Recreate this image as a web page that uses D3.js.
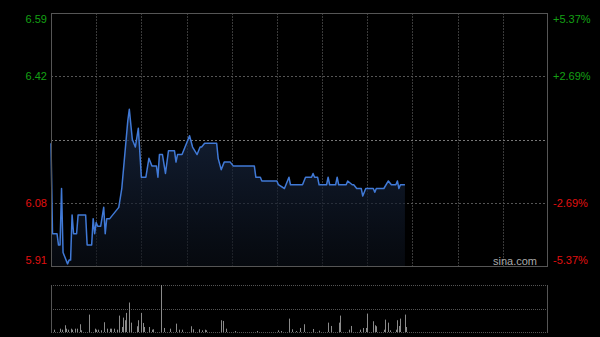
<!DOCTYPE html>
<html>
<head>
<meta charset="utf-8">
<script src="https://cdn.jsdelivr.net/npm/d3@7"></script>
<style>
  html, body { margin: 0; padding: 0; background: #000; }
  svg { display: block; }
  text { font-family: "Liberation Sans", Arial, sans-serif; font-size: 11px; }
</style>
</head>
<body>
<div id="chart"></div>
<script>
// previous close and axis ticks (percent from previous close)
var prevClose = 6.25;
var pctTicks = [5.37, 2.69, -2.69, -5.37];

// intraday price: minute offset from 09:30 (HK session, 330 min) and price
var priceMin = [0, 1, 4, 5, 6, 7, 8, 9, 11, 12, 13, 14, 15, 17, 18, 23, 24, 27, 28, 29,
  30, 31, 33, 35, 36, 37, 39, 41, 43, 45, 47, 51, 52, 54, 56, 58, 60, 63, 65, 67,
  70, 71, 72, 74, 76, 78, 82, 83, 84, 87, 89, 92, 94, 97, 99, 100, 102, 110, 111, 113,
  115, 119, 121, 135, 136, 139, 140, 150, 151, 155, 158, 159, 167, 169, 173, 174, 175, 177, 178, 183,
  184, 185, 189, 190, 191, 196, 197, 200, 201, 203, 206, 207, 209, 214, 215, 216, 221, 224, 226, 229,
  230, 231, 232, 235];
var priceVal = [6.24, 6.00, 6.00, 5.97, 5.97, 6.12, 5.95, 5.94, 5.92, 5.93, 5.93, 6.05, 6.00, 6.00, 6.05, 6.05, 5.97, 5.97, 6.04, 6.00,
  6.03, 6.02, 6.02, 6.07, 6.00, 6.04, 6.04, 6.05, 6.06, 6.07, 6.12, 6.30, 6.33, 6.25, 6.23, 6.28, 6.15, 6.15, 6.20, 6.18,
  6.18, 6.15, 6.21, 6.21, 6.16, 6.22, 6.22, 6.19, 6.21, 6.21, 6.23, 6.26, 6.23, 6.21, 6.23, 6.23, 6.24, 6.24, 6.20, 6.17,
  6.19, 6.19, 6.18, 6.18, 6.15, 6.15, 6.14, 6.14, 6.13, 6.12, 6.15, 6.13, 6.13, 6.15, 6.15, 6.16, 6.15, 6.15, 6.13, 6.13,
  6.15, 6.13, 6.13, 6.15, 6.13, 6.13, 6.14, 6.13, 6.13, 6.12, 6.12, 6.10, 6.12, 6.12, 6.11, 6.12, 6.12, 6.14, 6.13, 6.13,
  6.14, 6.12, 6.13, 6.13];

// volume per minute (relative units)
var volMin = [2, 6, 7, 9, 10, 11, 13, 14, 16, 17, 19, 20, 25, 29, 30, 31, 33, 35, 37, 39,
  40, 42, 44, 45, 47, 48, 49, 50, 52, 53, 57, 58, 60, 61, 62, 65, 67, 68, 73, 75,
  79, 83, 85, 87, 93, 94, 98, 100, 102, 103, 113, 114, 116, 122, 137, 151, 153, 158, 160, 163,
  165, 168, 174, 178, 184, 186, 191, 192, 198, 199, 205, 207, 209, 210, 214, 215, 216, 221, 222, 224,
  225, 229, 230, 231, 232, 235, 236];
var volVal = [23, 33, 23, 67, 33, 23, 33, 23, 33, 33, 77, 17, 173, 33, 23, 23, 17, 97, 33, 33,
  33, 33, 23, 163, 50, 143, 117, 190, 293, 93, 57, 117, 190, 90, 50, 50, 23, 27, 467, 40,
  33, 83, 23, 23, 57, 27, 27, 17, 23, 17, 117, 110, 33, 10, 10, 17, 10, 133, 27, 10,
  40, 77, 30, 13, 93, 60, 93, 163, 23, 60, 23, 40, 40, 183, 107, 67, 57, 23, 123, 93,
  17, 23, 117, 60, 133, 173, 50];

var W = 600, H = 337;
var plotLeft = 51, plotRight = 548, plotTop = 13, plotBottom = 266;
var volTop = 285, volBottom = 332;
var sessionMinutes = 330;

var svg = d3.select('#chart').append('svg')
    .attr('width', W).attr('height', H)
    .style('background', '#000');

var xScale = d3.scaleLinear().domain([0, sessionMinutes]).range([plotLeft, plotRight]);
var maxPct = d3.max(pctTicks) / 100;
var yScale = d3.scaleLinear()
    .domain([prevClose * (1 - maxPct), prevClose * (1 + maxPct)])
    .range([plotBottom, plotTop]);
var vScale = d3.scaleLinear().domain([0, d3.max(volVal)]).range([volBottom, volTop]);

var priceData = priceMin.map(function(m, i) { return {t: m, p: priceVal[i]}; });
var volData = volMin.map(function(m, i) { return {t: m, v: volVal[i]}; });

// gradient for the area under the price line
var defs = svg.append('defs');
var grad = defs.append('linearGradient')
    .attr('id', 'areaGrad').attr('x1', 0).attr('y1', 0).attr('x2', 0).attr('y2', 1);
grad.append('stop').attr('offset', '0%').attr('stop-color', '#1b2c4a').attr('stop-opacity', 0.75);
grad.append('stop').attr('offset', '100%').attr('stop-color', '#0a0f18').attr('stop-opacity', 0.6);

// vertical grid, every 30 minutes
var halfHours = d3.range(30, sessionMinutes, 30);
svg.append('g').selectAll('line').data(halfHours).enter().append('line')
    .attr('x1', function(d) { return Math.round(xScale(d)) + 0.5; })
    .attr('x2', function(d) { return Math.round(xScale(d)) + 0.5; })
    .attr('y1', plotTop).attr('y2', plotBottom)
    .attr('stroke', '#3a3a3a').attr('stroke-dasharray', '2,1');

// horizontal grid at the half ticks
var tickVals = pctTicks.map(function(p) { return prevClose * (1 + p / 100); });
svg.append('g').selectAll('line').data(tickVals.slice(1, 3)).enter().append('line')
    .attr('x1', plotLeft).attr('x2', plotRight)
    .attr('y1', function(d) { return Math.round(yScale(d)) + 0.5; })
    .attr('y2', function(d) { return Math.round(yScale(d)) + 0.5; })
    .attr('stroke', '#555').attr('stroke-dasharray', '2,2');
// previous close line
svg.append('line')
    .attr('x1', plotLeft).attr('x2', plotRight)
    .attr('y1', Math.round(yScale(prevClose)) + 0.5).attr('y2', Math.round(yScale(prevClose)) + 0.5)
    .attr('stroke', '#777').attr('stroke-dasharray', '2,2');

// area + line
var area = d3.area()
    .x(function(d) { return xScale(d.t); })
    .y0(plotBottom)
    .y1(function(d) { return yScale(d.p); });
svg.append('path').datum(priceData)
    .attr('d', area).attr('fill', 'url(#areaGrad)');

var line = d3.line()
    .x(function(d) { return xScale(d.t); })
    .y(function(d) { return yScale(d.p); });
svg.append('path').datum(priceData)
    .attr('d', line)
    .attr('fill', 'none')
    .attr('stroke', '#4079d6')
    .attr('stroke-width', 1.5)
    .attr('stroke-linejoin', 'round');

// plot border
svg.append('rect')
    .attr('x', plotLeft + 0.5).attr('y', plotTop + 0.5)
    .attr('width', plotRight - plotLeft - 1).attr('height', plotBottom - plotTop)
    .attr('fill', 'none').attr('stroke', '#555');

// price labels (left) and percent labels (right)
function labelY(d, i) {
    var y = yScale(d);
    if (i === 0) return y + 6;
    if (i === tickVals.length - 1) return y - 6;
    return y;
}
function labelColor(i) { return pctTicks[i] > 0 ? '#14a014' : '#e01010'; }

svg.append('g').selectAll('text').data(tickVals).enter().append('text')
    .attr('x', 47).attr('y', labelY)
    .attr('dy', '0.35em')
    .attr('text-anchor', 'end')
    .attr('fill', function(d, i) { return labelColor(i); })
    .text(function(d) { return d.toFixed(2); });

svg.append('g').selectAll('text').data(tickVals).enter().append('text')
    .attr('x', 553).attr('y', labelY)
    .attr('dy', '0.35em')
    .attr('fill', function(d, i) { return labelColor(i); })
    .text(function(d, i) { return (pctTicks[i] > 0 ? '+' : '') + pctTicks[i].toFixed(2) + '%'; });

// watermark
svg.append('text')
    .attr('x', 537).attr('y', 261).attr('dy', '0.35em')
    .attr('text-anchor', 'end')
    .attr('fill', '#aaa')
    .text('sina.com');

// volume panel
svg.append('g').selectAll('line').data([volTop, (volTop + volBottom) / 2, volBottom]).enter().append('line')
    .attr('x1', plotLeft).attr('x2', plotRight)
    .attr('y1', function(d) { return Math.round(d) + 0.5; })
    .attr('y2', function(d) { return Math.round(d) + 0.5; })
    .attr('stroke', '#555').attr('stroke-dasharray', '1,1');
svg.append('g').selectAll('line').data([plotLeft, plotRight - 1]).enter().append('line')
    .attr('x1', function(d) { return d + 0.5; }).attr('x2', function(d) { return d + 0.5; })
    .attr('y1', volTop).attr('y2', volBottom + 1)
    .attr('stroke', '#555');

svg.append('g').selectAll('rect').data(volData).enter().append('rect')
    .attr('x', function(d) { return Math.round(xScale(d.t)); })
    .attr('y', function(d) { return vScale(d.v); })
    .attr('width', 1)
    .attr('height', function(d) { return volBottom - vScale(d.v); })
    .attr('fill', '#8a8a8a');
</script>
</body>
</html>
